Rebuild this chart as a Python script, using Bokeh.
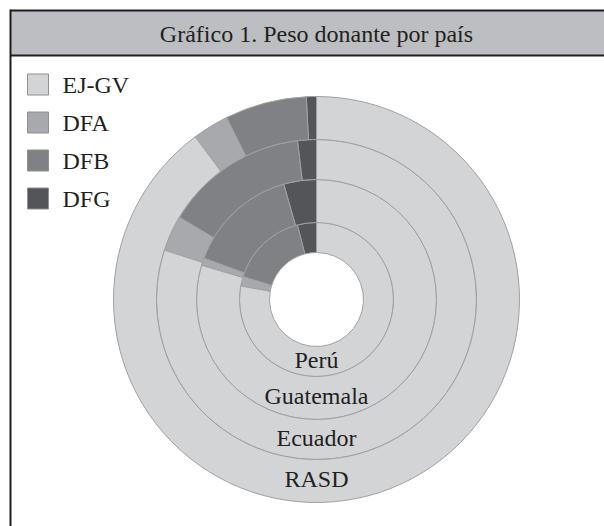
import numpy as np
from bokeh.plotting import figure
from bokeh.models import Range1d, ColumnDataSource
from bokeh.embed import file_html
from bokeh.resources import INLINE
from bokeh.core.properties import value

# ---------------- data ----------------
title = "Gráfico 1. Peso donante por país"
countries = ["Perú", "Guatemala", "Ecuador", "RASD"]      # inner -> outer ring
series = ["EJ-GV", "DFA", "DFB", "DFG"]                    # legend order
ej_gv = [77.8, 79.6, 80.0, 89.8]
dfa = [2.0, 1.0, 3.6, 2.9]
dfb = [16.2, 15.0, 14.5, 6.5]
dfg = [4.0, 4.4, 1.9, 0.8]

# ---------------- style / layout ----------------
colors = {"EJ-GV": "#d3d4d6", "DFA": "#a8a9ac", "DFB": "#808184", "DFG": "#545559"}
FONT = "Liberation Serif"
W, H = 604, 526
cx, cy = 316, 227                  # donut centre (data units == px)
radii = [47, 77, 120, 160, 203]    # hole, ring boundaries

p = figure(width=W, height=H, x_range=Range1d(0, W), y_range=Range1d(0, H),
           output_backend="svg", toolbar_location=None, min_border=0,
           x_axis_location=None, y_axis_location=None)
p.grid.visible = False
p.outline_line_color = None
p.background_fill_color = "white"
p.border_fill_color = "white"

# frame + title bar
p.quad(left=[10], right=[W + 20], top=[516], bottom=[471],
       fill_color="#bdbec1", line_color=None)
p.segment(x0=[10, 10], y0=[516, 471], x1=[W + 20, W + 20], y1=[516, 471],
          line_color="#1e1e1e", line_width=2)
p.segment(x0=[10], y0=[-5], x1=[10], y1=[517], line_color="#1e1e1e", line_width=2)
p.text(x=[316], y=[493], text=[title], text_font=value(FONT),
       text_font_size="24px", text_align="center", text_baseline="middle",
       text_color="#231f20")

# rings
data = {"DFG": dfg, "DFB": dfb, "DFA": dfa, "EJ-GV": ej_gv}
order = ["DFG", "DFB", "DFA", "EJ-GV"]   # anticlockwise from 12 o'clock
rows = dict(start=[], end=[], rin=[], rout=[], color=[], name=[])
for i, c in enumerate(countries):
    ang = np.pi / 2
    for s in order:
        frac = data[s][i] / 100.0
        rows["start"].append(ang)
        rows["end"].append(ang + frac * 2 * np.pi)
        ang += frac * 2 * np.pi
        rows["rin"].append(radii[i])
        rows["rout"].append(radii[i + 1])
        rows["color"].append(colors[s])
        rows["name"].append(s)
src = ColumnDataSource(rows)
p.annular_wedge(x=cx, y=cy, inner_radius="rin", outer_radius="rout",
                start_angle="start", end_angle="end", source=src,
                fill_color="color", line_color="#9fa0a3", line_width=1)

# ring labels
lab_y = [cy - (radii[i] + radii[i + 1]) / 2 + 2 for i in range(len(countries))]
p.text(x=[cx] * len(countries), y=lab_y, text=countries, text_font=value(FONT),
       text_font_size="24px", text_align="center", text_baseline="middle",
       text_color="#231f20")

# legend
leg_top, pitch = 442, 38
leg_y = [leg_top - k * pitch for k in range(len(series))]
p.rect(x=[37.5] * len(series), y=leg_y, width=21, height=21,
       fill_color=[colors[s] for s in series], line_color="#8e8f92", line_width=1)
p.text(x=[62] * len(series), y=leg_y, text=series, text_font=value(FONT),
       text_font_size="24px", text_align="left", text_baseline="middle",
       text_color="#231f20")

open("out.html", "w").write(file_html(p, INLINE))
